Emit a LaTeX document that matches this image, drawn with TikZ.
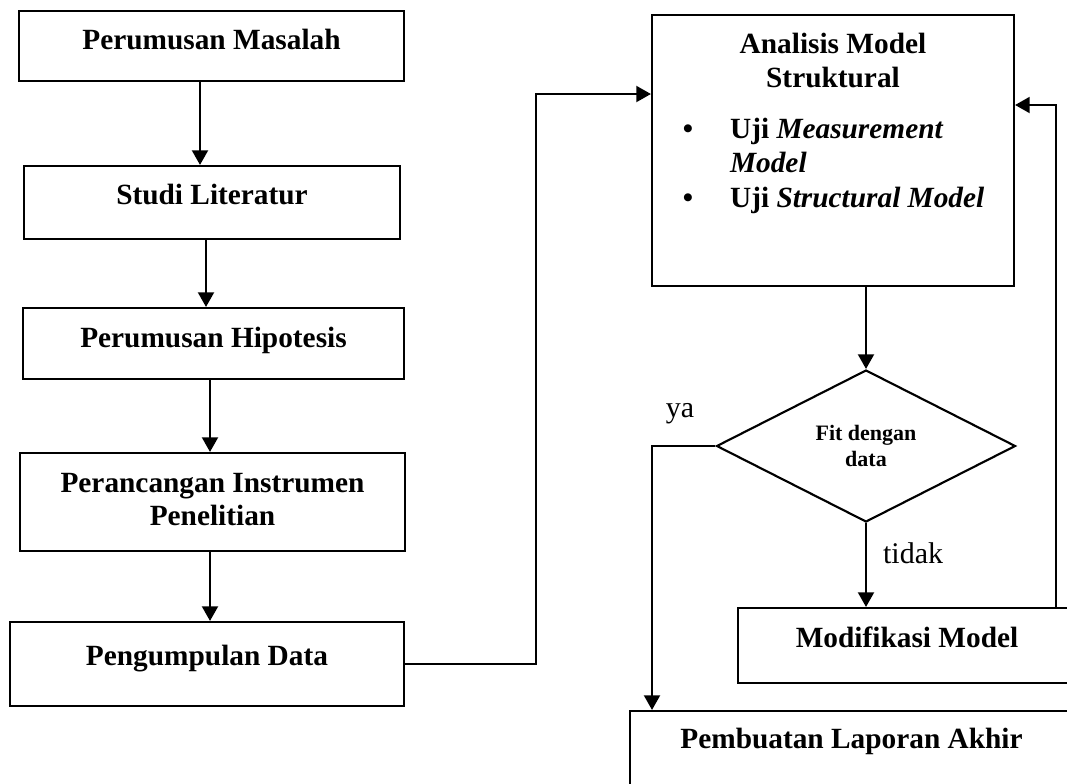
\documentclass[tikz,border=0pt]{standalone}
\usepackage{fontspec}
\setmainfont{Liberation Serif}
\usetikzlibrary{arrows.meta,shapes.geometric,calc}
\begin{document}
\begin{tikzpicture}[x=0.75pt,y=-0.75pt,
  line width=1.6pt,
  box/.style 2 args={draw, rectangle, inner sep=0pt,
    minimum width=#1*0.75pt, minimum height=#2*0.75pt},
  boxtext/.style={font=\fontsize{22}{26.5}\selectfont\bfseries,
    inner sep=0pt, anchor=base},
  listtext/.style={boxtext, anchor=base west},
  plain/.style={font=\fontsize{22.5}{27}\selectfont, inner sep=0pt},
  decision/.style={draw, diamond, inner sep=0pt, align=center,
    minimum width=299*0.75pt, minimum height=152*0.75pt,
    font=\fontsize{16.5}{20}\selectfont\bfseries},
  arr/.style={-{Triangle[length=11pt,width=12pt]}},
]
\clip (0,0) rectangle (1067,783);

% left column: research steps
\node[box={385}{70}] (b1) at (211.5,46) {};
\node[boxtext] (t1) at (211.5,49) {Perumusan Masalah};
\node[box={376}{73}] (b2) at (212,202.5) {};
\node[boxtext] (t2) at (212,204) {Studi Literatur};
\node[box={381}{71}] (b3) at (213.5,343.5) {};
\node[boxtext] (t3) at (213.5,347) {Perumusan Hipotesis};
\node[box={385}{98}] (b4) at (212.5,502) {};
\node[boxtext] (t4a) at (212.5,492) {Perancangan Instrumen};
\node[boxtext] (t4b) at (212.5,525) {Penelitian};
\node[box={394}{84}] (b5) at (207,664) {};
\node[boxtext] (t5) at (207,665) {Pengumpulan Data};

% right column: model analysis
\node[box={362}{271}] (ana) at (833,150.5) {};
\node[boxtext] (ta1) at (833,53) {Analisis Model};
\node[boxtext] (ta2) at (833,87) {Struktural};
\node[boxtext] (bul1) at (688,138) {\textbullet};
\node[listtext] (ta3) at (729,138) {Uji \textit{Measurement}};
\node[listtext] (ta4) at (729,172) {\textit{Model}};
\node[boxtext] (bul2) at (688,207) {\textbullet};
\node[listtext] (ta5) at (729,207) {Uji \textit{Structural Model}};

\node[decision] (dia) at (866,446) {Fit dengan\\data};

\node[box={338}{75}] (mod) at (907,645.5) {};
\node[boxtext] (tm) at (907,647) {Modifikasi Model};
\node[box={443}{129}] (pem) at (851.5,775.5) {};
\node[boxtext] (tp) at (851.5,748) {Pembuatan Laporan Akhir};

\node[plain, anchor=base] (ya) at (680,417) {ya};
\node[plain, anchor=base west] (tidak) at (882,563) {tidak};

% connectors
\coordinate (c1) at (200,0);
\coordinate (c2) at (206,0);
\coordinate (c3) at (210,0);
\coordinate (c4) at (210,0);
\coordinate (bend1) at (536,94);
\coordinate (bend2) at (1056,105);
\coordinate (yax) at (652,0);

\draw[arr] (b1.south -| c1) -- (b2.north -| c1);
\draw[arr] (b2.south -| c2) -- (b3.north -| c2);
\draw[arr] (b3.south -| c3) -- (b4.north -| c3);
\draw[arr] (b4.south -| c4) -- (b5.north -| c4);
\draw[arr] (b5.east) -| (bend1) -- (bend1 -| ana.west);
\draw[arr] (ana.south -| dia.north) -- (dia.north);
\draw[arr] (dia.south) -- (dia.south |- mod.north);
\draw[arr] (mod.north -| bend2) -- (bend2) -- (bend2 -| ana.east);
\draw[arr] (dia.west) -| (pem.north -| yax);
\end{tikzpicture}
\end{document}
